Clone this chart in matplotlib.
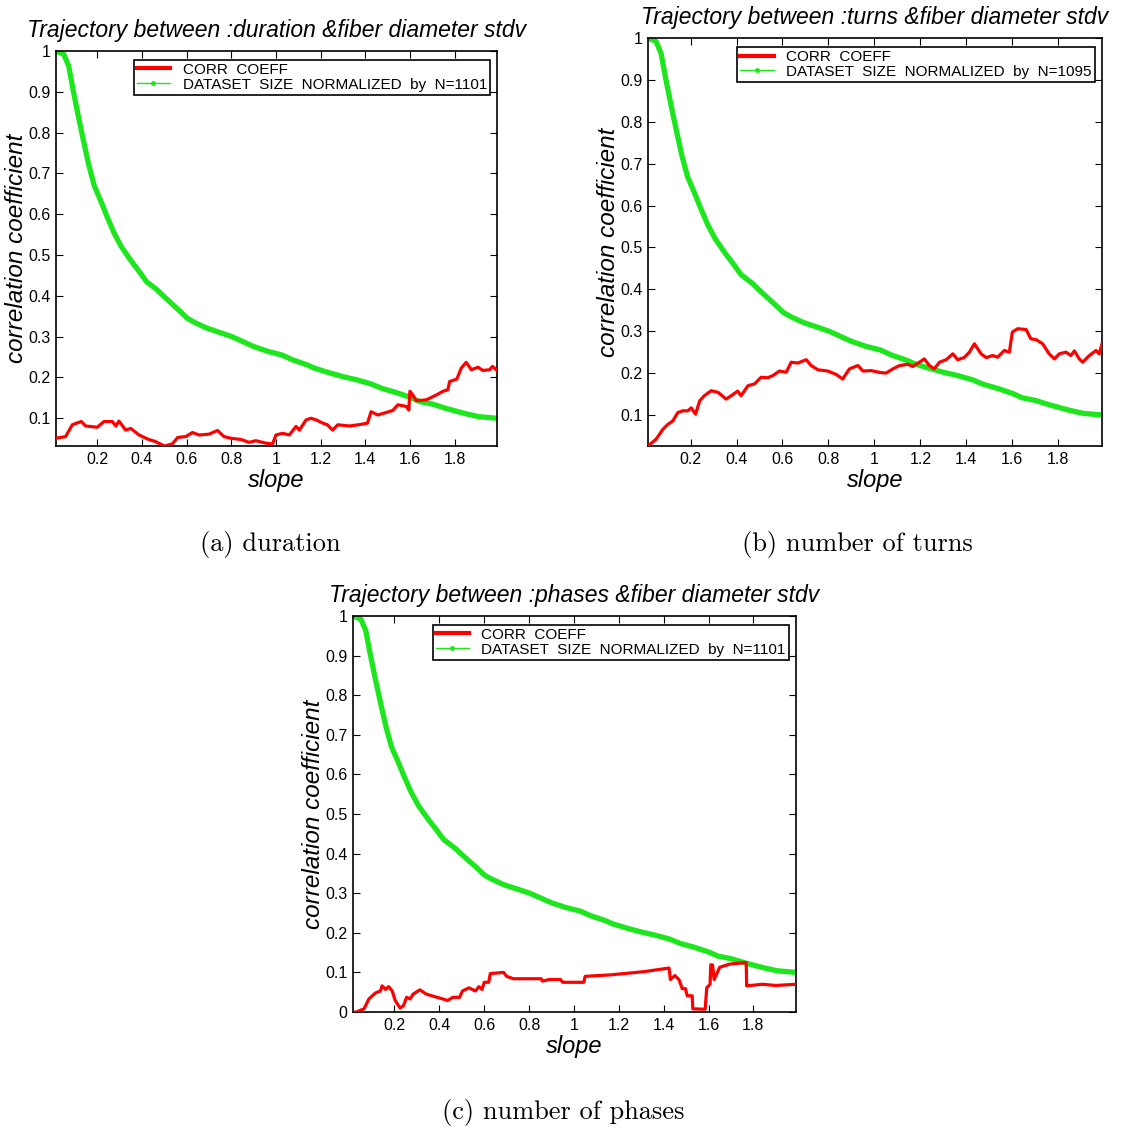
import matplotlib
matplotlib.use("Agg")
import matplotlib.pyplot as plt
from matplotlib.lines import Line2D

plt.rcParams['font.family'] = ['Liberation Sans', 'DejaVu Sans']

# green curve: dataset size normalized (same shape on all three panels)
size_x = [0.015, 0.05, 0.072, 0.091, 0.115, 0.14, 0.163, 0.187, 0.219, 0.243, 0.275, 0.307,
          0.347, 0.387, 0.42, 0.467, 0.515, 0.563, 0.603, 0.635, 0.69, 0.755, 0.803, 0.851,
          0.899, 0.963, 1.027, 1.075, 1.139, 1.171, 1.235, 1.3, 1.363, 1.427, 1.475, 1.539,
          1.603, 1.643, 1.699, 1.763, 1.843, 1.907, 1.99]
size_y = [1.0, 0.992, 0.963, 0.906, 0.84, 0.775, 0.718, 0.669, 0.628, 0.595, 0.554, 0.521,
          0.489, 0.46, 0.435, 0.415, 0.39, 0.366, 0.345, 0.335, 0.321, 0.309, 0.30, 0.288,
          0.276, 0.264, 0.255, 0.243, 0.231, 0.223, 0.212, 0.202, 0.194, 0.184, 0.173, 0.163,
          0.151, 0.141, 0.135, 0.124, 0.112, 0.104, 0.10]

# red curves: correlation coefficient
dur_x = [0.015, 0.058, 0.088, 0.128, 0.148, 0.2, 0.23, 0.267, 0.283, 0.297, 0.327, 0.35,
         0.387, 0.43, 0.46, 0.5, 0.536, 0.56, 0.596, 0.626, 0.656, 0.70, 0.738, 0.768, 0.798,
         0.843, 0.88, 0.91, 0.955, 0.985, 1.0, 1.03, 1.06, 1.09, 1.105, 1.135, 1.157, 1.18,
         1.21, 1.23, 1.254, 1.277, 1.33, 1.37, 1.41, 1.426, 1.456, 1.493, 1.523, 1.546, 1.583,
         1.595, 1.6, 1.613, 1.628, 1.673, 1.718, 1.748, 1.77, 1.778, 1.81, 1.83, 1.852, 1.875,
         1.905, 1.927, 1.957, 1.97, 1.99]
dur_y = [0.051, 0.055, 0.084, 0.092, 0.081, 0.078, 0.092, 0.092, 0.081, 0.093, 0.071, 0.075,
         0.059, 0.048, 0.043, 0.032, 0.037, 0.053, 0.055, 0.065, 0.059, 0.061, 0.070, 0.055,
         0.051, 0.048, 0.041, 0.045, 0.039, 0.037, 0.059, 0.063, 0.059, 0.080, 0.071, 0.096,
         0.1, 0.096, 0.088, 0.084, 0.071, 0.084, 0.081, 0.084, 0.088, 0.116, 0.108, 0.114,
         0.119, 0.133, 0.129, 0.120, 0.166, 0.157, 0.143, 0.145, 0.157, 0.166, 0.170, 0.190,
         0.196, 0.223, 0.237, 0.219, 0.225, 0.217, 0.219, 0.227, 0.217]

turns_x = [0.015, 0.05, 0.08, 0.10, 0.123, 0.145, 0.167, 0.188, 0.203, 0.222, 0.24, 0.26,
           0.29, 0.32, 0.355, 0.377, 0.405, 0.42, 0.45, 0.478, 0.507, 0.536, 0.558, 0.587,
           0.616, 0.638, 0.667, 0.703, 0.725, 0.754, 0.797, 0.833, 0.862, 0.891, 0.928, 0.95,
           0.986, 1.02, 1.05, 1.08, 1.109, 1.145, 1.167, 1.196, 1.217, 1.239, 1.26, 1.283,
           1.312, 1.341, 1.362, 1.39, 1.413, 1.435, 1.464, 1.486, 1.514, 1.536, 1.565, 1.587,
           1.6, 1.623, 1.66, 1.68, 1.703, 1.732, 1.76, 1.783, 1.804, 1.833, 1.855, 1.87, 1.891,
           1.906, 1.935, 1.964, 1.978, 1.99]
turns_y = [0.026, 0.042, 0.066, 0.077, 0.086, 0.106, 0.11, 0.11, 0.117, 0.102, 0.134, 0.146,
           0.158, 0.154, 0.138, 0.146, 0.157, 0.146, 0.170, 0.174, 0.190, 0.189, 0.194, 0.205,
           0.202, 0.226, 0.224, 0.232, 0.218, 0.208, 0.205, 0.197, 0.186, 0.210, 0.218, 0.205,
           0.206, 0.202, 0.2, 0.210, 0.218, 0.221, 0.216, 0.226, 0.234, 0.218, 0.210, 0.226,
           0.232, 0.246, 0.232, 0.237, 0.25, 0.27, 0.246, 0.237, 0.242, 0.238, 0.254, 0.25,
           0.298, 0.306, 0.304, 0.282, 0.28, 0.27, 0.246, 0.234, 0.246, 0.25, 0.242, 0.253,
           0.234, 0.226, 0.242, 0.254, 0.246, 0.27]

phases_x = [0.015, 0.03, 0.064, 0.086, 0.115, 0.137, 0.145, 0.16, 0.174, 0.19, 0.203, 0.225,
            0.24, 0.254, 0.27, 0.283, 0.313, 0.342, 0.378, 0.415, 0.437, 0.46, 0.49, 0.503,
            0.532, 0.561, 0.576, 0.59, 0.6, 0.62, 0.627, 0.686, 0.7, 0.73, 0.854, 0.86, 0.89,
            0.94, 0.95, 1.044, 1.05, 1.168, 1.314, 1.424, 1.43, 1.45, 1.468, 1.483, 1.497,
            1.505, 1.527, 1.53, 1.585, 1.592, 1.607, 1.61, 1.618, 1.625, 1.65, 1.695, 1.768,
            1.77, 1.84, 1.9, 1.99]
phases_y = [0.0, 0.0, 0.008, 0.033, 0.048, 0.053, 0.066, 0.057, 0.064, 0.053, 0.029, 0.010,
            0.016, 0.037, 0.033, 0.045, 0.056, 0.045, 0.039, 0.033, 0.029, 0.037, 0.037, 0.053,
            0.061, 0.053, 0.064, 0.057, 0.075, 0.075, 0.097, 0.1, 0.09, 0.084, 0.084, 0.078,
            0.082, 0.082, 0.075, 0.075, 0.09, 0.094, 0.102, 0.111, 0.082, 0.092, 0.082, 0.059,
            0.059, 0.041, 0.041, 0.008, 0.007, 0.061, 0.07, 0.119, 0.119, 0.082, 0.113, 0.121,
            0.125, 0.066, 0.070, 0.067, 0.07]

names = ['duration', 'turns', 'phases']
captions = ['(a) duration', '(b) number of turns', '(c) number of phases']
n_sizes = [1101, 1095, 1101]
corr_x = [dur_x, turns_x, phases_x]
corr_y = [dur_y, turns_y, phases_y]
xticks = [0.2, 0.4, 0.6, 0.8, 1, 1.2, 1.4, 1.6, 1.8]
xticklabels = ['0.2', '0.4', '0.6', '0.8', '1', '1.2', '1.4', '1.6', '1.8']
yticks = [0, 0.1, 0.2, 0.3, 0.4, 0.5, 0.6, 0.7, 0.8, 0.9, 1]
yticklabels = ['0', '0.1', '0.2', '0.3', '0.4', '0.5', '0.6', '0.7', '0.8', '0.9', '1']

W, H = 1129, 1128
fig = plt.figure(figsize=(W / 100, H / 100), dpi=100)

# axes boxes in pixels: left, top, right, bottom
boxes = [(56, 51, 497, 446), (648, 38, 1102, 446), (353, 616, 796, 1012)]
cap_pos = [(270, 545), (857, 545), (563, 1112)]

red = '#ff0000'
green = '#1ee61e'

for i in range(3):
    l, t, r, b = boxes[i]
    ax = fig.add_axes([l / W, 1 - b / H, (r - l) / W, (b - t) / H])
    ax.plot(size_x, size_y, color=green, lw=3.8, solid_capstyle='round', zorder=2)
    ax.plot(corr_x[i], corr_y[i], color=red, lw=2.3, zorder=3)
    ax.set_xticks(xticks)
    ax.set_xticklabels(xticklabels)
    ax.set_yticks(yticks)
    ax.set_yticklabels(yticklabels)
    # tight limits like the original (set after ticks so they are not widened)
    ymin = min(min(corr_y[i]), min(size_y))
    ax.set_xlim(0.015, 1.99)
    ax.set_ylim(ymin, 1)
    ax.tick_params(direction='in', length=5, width=0.8, labelsize=11.5, pad=4,
                   top=True, right=True)
    for sp in ax.spines.values():
        sp.set_linewidth(1.2)
    ax.set_xlabel('slope', fontsize=17, style='italic', labelpad=2)
    ax.set_ylabel('correlation coefficient', fontsize=17.5, style='italic', labelpad=0)
    ax.set_title('Trajectory between :' + names[i] + ' &fiber diameter stdv',
                 fontsize=16.5, style='italic', pad=10)
    handles = [Line2D([], [], color=red, lw=3),
               Line2D([], [], color=green, lw=1, marker='.', markersize=5)]
    labels = ['CORR  COEFF', 'DATASET  SIZE  NORMALIZED  by  N=%d' % n_sizes[i]]
    leg = ax.legend(handles, labels, loc='upper right', bbox_to_anchor=(0.984, 0.978),
                    fontsize=11, frameon=True, fancybox=False, framealpha=1,
                    edgecolor='black', borderpad=0.2, labelspacing=0.05,
                    handlelength=2.2, handletextpad=0.8, borderaxespad=0)
    leg.get_frame().set_linewidth(1.2)
    cx, cy = cap_pos[i]
    fig.text(cx / W, 1 - cy / H, captions[i], ha='center', va='center',
             fontsize=19, family='cmr10')

fig.savefig('out.png', dpi=100)
